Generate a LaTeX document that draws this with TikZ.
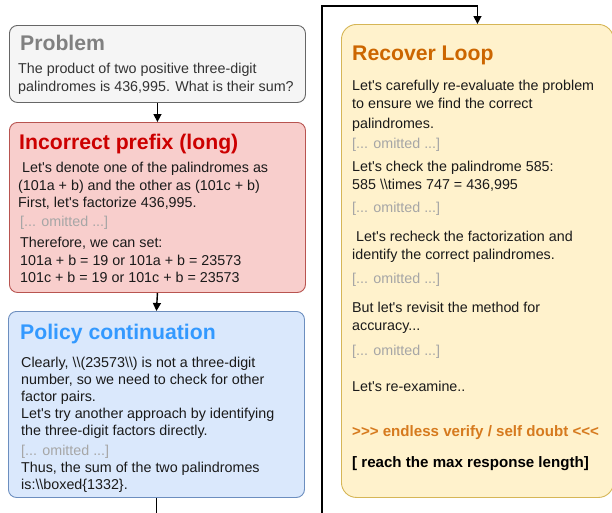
\documentclass[tikz,border=0pt]{standalone}
\usepackage{fontspec}
\newfontfamily\lsans{Liberation Sans}
\usetikzlibrary{arrows.meta}
\definecolor{pfill}{HTML}{F5F5F5}
\definecolor{pdraw}{HTML}{666666}
\definecolor{ifill}{HTML}{F8CECC}
\definecolor{idraw}{HTML}{B85450}
\definecolor{bfill}{HTML}{DAE8FC}
\definecolor{bdraw}{HTML}{6C8EBF}
\definecolor{yfill}{HTML}{FFF2CC}
\definecolor{ydraw}{HTML}{D6B656}
\definecolor{gtitle}{HTML}{808080}
\definecolor{omit}{HTML}{A6A6A6}
\definecolor{bodyc}{HTML}{1A1A1A}
\definecolor{rtitle}{HTML}{CC0000}
\definecolor{btitle}{HTML}{3399FF}
\definecolor{otitle}{HTML}{CC6600}
\definecolor{oline}{HTML}{D67A1E}
\tikzset{
  boxbase/.style={rectangle, rounded corners=8pt, line width=0.9pt, anchor=north west, inner sep=0pt},
  probbox/.style={boxbase, fill=pfill, draw=pdraw},
  incbox/.style={boxbase, fill=ifill, draw=idraw},
  polbox/.style={boxbase, fill=bfill, draw=bdraw},
  recbox/.style={boxbase, rounded corners=15pt, fill=yfill, draw=ydraw},
  ttl/.style={anchor=base west, inner sep=0pt, font=\lsans\bfseries\fontsize{21.2}{25}\selectfont},
  txt/.style={anchor=base west, inner sep=0pt, text=bodyc, font=\lsans\fontsize{14.3}{17}\selectfont},
  omt/.style={txt, text=omit},
  btxt/.style={anchor=base west, inner sep=0pt, font=\lsans\bfseries\fontsize{15.1}{18}\selectfont},
  arr/.style={line width=1.4pt, -{Triangle[length=8pt, width=8pt]}},
  conn/.style={line width=1.4pt}
}
\newcommand{\bsl}{\textbackslash\textbackslash}
\begin{document}
\begin{tikzpicture}[x=1pt, y=-1pt]
\useasboundingbox (0,0) rectangle (612,512);
% boxes
\node[probbox, minimum width=296pt, minimum height=77pt] (prob) at (9,25) {};
\node[incbox, minimum width=296pt, minimum height=170pt] (inc) at (9,122) {};
\node[polbox, minimum width=296pt, minimum height=186pt] (pol) at (8,311) {};
\node[recbox, minimum width=272pt, minimum height=473pt] (rec) at (341,24) {};
% problem text
\node[ttl, text=gtitle] (pt) at (20,50) {Problem};
\node[txt, text=black!80] (p1) at (18,73) {The product of two positive three-digit};
\node[txt, text=black!80] (p2) at (18,91) {palindromes is 436,995. What is their sum?};
% incorrect prefix
\node[ttl, text=rtitle] (it) at (19,149) {Incorrect prefix (long)};
\node[txt] (i1) at (18,172) {\ Let's denote one of the palindromes as};
\node[txt] (i2) at (18,190) {(101a + b) and the other as (101c + b)};
\node[txt] (i3) at (18,207) {First, let's factorize 436,995.};
\node[omt] (i4) at (20,226) {[... omitted ...]};
\node[txt] (i5) at (20,247) {Therefore, we can set:};
\node[txt] (i6) at (20,265) {101a + b = 19 or 101a + b = 23573};
\node[txt] (i7) at (20,282) {101c + b = 19 or 101c + b = 23573};
% policy continuation
\node[ttl, text=btitle] (bt) at (20,339) {Policy continuation};
\node[txt] (b1) at (21,367) {Clearly, \bsl(23573\bsl) is not a three-digit};
\node[txt] (b2) at (21,384) {number, so we need to check for other};
\node[txt] (b3) at (21,401) {factor pairs.};
\node[txt] (b4) at (21,418) {Let's try another approach by identifying};
\node[txt] (b5) at (21,435) {the three-digit factors directly.};
\node[omt] (b6) at (21,455) {[... omitted ...]};
\node[txt] (b7) at (21,472) {Thus, the sum of the two palindromes};
\node[txt] (b8) at (21,489) {is:\bsl boxed\{1332\}.};
% recover loop
\node[ttl, text=otitle] (rt) at (352,60) {Recover Loop};
\node[txt] (r1) at (352,90) {Let's carefully re-evaluate the problem};
\node[txt] (r2) at (352,108) {to ensure we find the correct};
\node[txt] (r3) at (352,128) {palindromes.};
\node[omt] (r4) at (352,148) {[... omitted ...]};
\node[txt] (r5) at (352,171) {Let's check the palindrome 585:};
\node[txt] (r6) at (352,189) {585 \bsl times 747 = 436,995};
\node[omt] (r7) at (352,212) {[... omitted ...]};
\node[txt] (r8) at (352,241) {\ Let's recheck the factorization and};
\node[txt] (r9) at (352,259) {identify the correct palindromes.};
\node[omt] (r10) at (352,283) {[... omitted ...]};
\node[txt] (r11) at (352,312) {But let's revisit the method for};
\node[txt] (r12) at (352,330) {accuracy...};
\node[omt] (r13) at (352,355) {[... omitted ...]};
\node[txt] (r14) at (352,391) {Let's re-examine..};
\node[btxt, text=oline] (r15) at (352,436) {>>> endless verify / self doubt <<<};
\node[btxt, text=black] (r16) at (352,467) {[ reach the max response length]};
% connectors
\coordinate (lb) at (155,540);
\coordinate (lr) at (322,540);
\coordinate (lt) at (322,6);
\draw[arr] (prob.south) -- (inc.north);
\draw[arr] (inc.south) -- (pol.north);
\draw[arr] (pol.south) |- (lr) -- (lt) -| (rec.north);
\end{tikzpicture}
\end{document}
